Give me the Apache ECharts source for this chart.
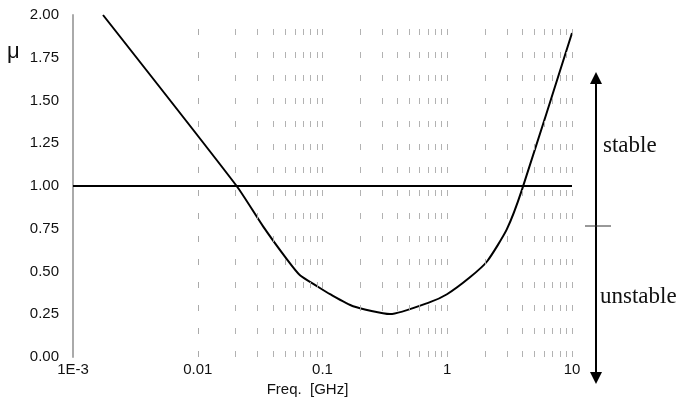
<!DOCTYPE html>
<html>
<head>
<meta charset="utf-8">
<script src="https://cdn.jsdelivr.net/npm/echarts@6/dist/echarts.min.js"></script>
<style>
  html, body { margin: 0; padding: 0; background: #fff; }
  #chart { width: 682px; height: 402px; }
</style>
</head>
<body>
<div id="chart"></div>
<script>
// frequency in GHz, mu
const freq = [0.00174, 0.0205, 0.0334, 0.0519, 0.066, 0.0904, 0.115, 0.176, 0.348, 0.727, 0.995, 1.52, 2.09, 3.0, 3.98, 10];
const mu = [2.0, 1.0, 0.764, 0.571, 0.478, 0.414, 0.367, 0.297, 0.251, 0.321, 0.367, 0.466, 0.56, 0.746, 0.98, 1.895];
const limitLine = [[0.001, 1.0], [10, 1.0]];
const xTickLabels = { 0.001: '1E-3', 0.01: '0.01', 0.1: '0.1', 1: '1', 10: '10' };
const gridFreqs = [];
[0.001, 0.01, 0.1, 1].forEach(d => {
  for (let k = 2; k <= 10; k++) gridFreqs.push(+(d * k).toPrecision(3));
});

const chart = echarts.init(document.getElementById('chart'));
const fontSans = 'Liberation Sans, Arial, sans-serif';
const fontSerif = 'Liberation Serif, Times New Roman, serif';

chart.setOption({
  animation: false,
  grid: { left: 73, right: 110, top: 15, bottom: 44 },
  xAxis: {
    type: 'log',
    logBase: 10,
    min: 0.001,
    max: 10,
    axisLine: { show: false },
    axisTick: { show: false },
    splitLine: { show: false },
    axisLabel: {
      color: '#111',
      fontFamily: fontSans,
      fontSize: 15,
      margin: 5,
      formatter: v => xTickLabels[+v.toPrecision(3)] || ''
    },
    name: 'Freq.  [GHz]',
    nameLocation: 'middle',
    nameGap: 25,
    nameTextStyle: { color: '#111', fontFamily: fontSans, fontSize: 15, padding: [0, 30, 0, 0] }
  },
  yAxis: {
    type: 'value',
    min: 0,
    max: 2,
    interval: 0.25,
    axisLine: { show: true, lineStyle: { color: '#aaa', width: 2 } },
    axisTick: { show: false },
    splitLine: { show: false },
    axisLabel: {
      color: '#111',
      fontFamily: fontSans,
      fontSize: 15,
      margin: 14,
      formatter: v => v.toFixed(2)
    }
  },
  series: [
    {
      type: 'line',
      data: limitLine,
      symbol: 'none',
      lineStyle: { color: '#000', width: 2 },
      z: 3,
      markLine: {
        silent: true,
        symbol: ['none', 'none'],
        label: { show: false },
        lineStyle: { color: '#aaa', width: 1, type: [6, 17], opacity: 0.9 },
        data: gridFreqs.map(f => ({ xAxis: f }))
      }
    },
    {
      type: 'line',
      data: freq.map((f, i) => [f, mu[i]]),
      symbol: 'none',
      smooth: 0.2,
      lineStyle: { color: '#000', width: 2 },
      z: 4
    }
  ],
  graphic: [
    { type: 'text', left: 7, top: 41, style: { text: 'μ', font: '22px ' + fontSans, fill: '#111' } },
    { type: 'line', shape: { x1: 596, y1: 82, x2: 596, y2: 374 }, style: { stroke: '#000', lineWidth: 2 } },
    { type: 'polygon', shape: { points: [[596, 72], [590, 84], [602, 84]] }, style: { fill: '#000' } },
    { type: 'polygon', shape: { points: [[596, 384], [590, 372], [602, 372]] }, style: { fill: '#000' } },
    { type: 'line', shape: { x1: 585, y1: 226, x2: 611, y2: 226 }, style: { stroke: '#333', lineWidth: 1 } },
    { type: 'text', left: 603, top: 134, style: { text: 'stable', font: '23px ' + fontSerif, fill: '#111' } },
    { type: 'text', left: 600, top: 285, style: { text: 'unstable', font: '23px ' + fontSerif, fill: '#111' } }
  ]
});
</script>
</body>
</html>
